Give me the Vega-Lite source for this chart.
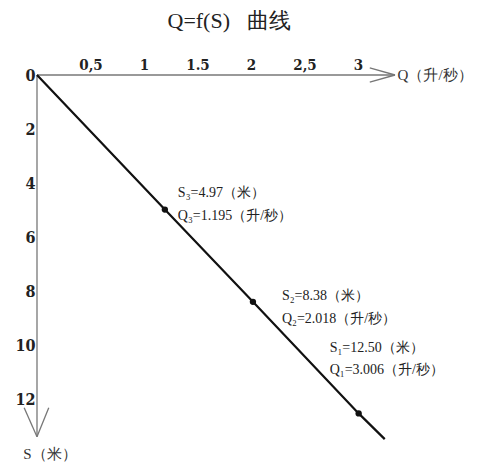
{
  "$schema": "https://vega.github.io/schema/vega-lite/v6.json",
  "width": 428,
  "height": 379,
  "autosize": "none",
  "padding": {"left": 37, "top": 75, "right": 18, "bottom": 13},
  "background": "white",
  "config": {"view": {"stroke": null}, "font": "Liberation Serif"},
  "title": {"text": "Q=f(S)\u00a0\u00a0\u00a0曲线", "fontSize": 22, "font": "Liberation Serif", "fontWeight": "normal", "color": "#222", "anchor": "middle", "dx": -22, "offset": 24},
  "datasets": {
    "curve": [
      {"Q": 0, "S": 0},
      {"Q": 1.195, "S": 4.97},
      {"Q": 2.018, "S": 8.38},
      {"Q": 3.006, "S": 12.5},
      {"Q": 3.25, "S": 13.45}
    ],
    "pts": [
      {"Q": 1.195, "S": 4.97, "label": "S₃=4.97（米）\nQ₃=1.195（升/秒）", "id": 3},
      {"Q": 2.018, "S": 8.38, "label": "S₂=8.38（米）\nQ₂=2.018（升/秒）", "id": 2},
      {"Q": 3.006, "S": 12.5, "label": "S₁=12.50（米）\nQ₁=3.006（升/秒）", "id": 1}
    ],
    "axes": [
      {"Q": 0, "S": 0, "Q2": 3.346, "S2": 0},
      {"Q": 3.11, "S": -0.26, "Q2": 3.346, "S2": 0},
      {"Q": 3.11, "S": 0.26, "Q2": 3.346, "S2": 0},
      {"Q": 0, "S": 0, "Q2": 0, "S2": 13.36},
      {"Q": -0.12, "S": 12.29, "Q2": 0, "S2": 13.36},
      {"Q": 0.11, "S": 12.29, "Q2": 0, "S2": 13.36}
    ],
    "axisnames": [
      {"Q": 3.37, "S": 0, "name": "Q（升/秒）", "axis": "x"},
      {"Q": 0.12, "S": 14.0, "name": "S（米）", "axis": "y"}
    ]
  },
  "encoding": {
    "x": {"field": "Q", "type": "quantitative", "scale": {"domain": [0, 4], "nice": false, "zero": false},
      "axis": {"orient": "top", "title": null, "domain": false, "ticks": false, "grid": false, "values": [0.5, 1, 1.5, 2, 2.5, 3],
        "labelExpr": "datum.value == 0.5 ? '0,5' : datum.value == 2.5 ? '2,5' : format(datum.value, '~g')",
        "labelFont": "'DejaVu Serif Condensed', 'Liberation Serif'", "labelFontSize": 15, "labelFontWeight": "bold", "labelColor": "#222", "labelPadding": 3}},
    "y": {"field": "S", "type": "quantitative", "scale": {"domain": [0, 14], "nice": false, "zero": false, "reverse": true},
      "axis": {"orient": "left", "title": null, "domain": false, "ticks": false, "grid": false, "values": [0, 2, 4, 6, 8, 10, 12],
        "labelFont": "'DejaVu Serif Condensed', 'Liberation Serif'", "labelFontSize": 16, "labelFontWeight": "bold", "labelColor": "#222", "labelPadding": 2}}
  },
  "layer": [
    {
      "data": {"name": "axes"},
      "mark": {"type": "rule", "color": "#777", "strokeWidth": 1.3, "clip": false},
      "encoding": {"x2": {"field": "Q2"}, "y2": {"field": "S2"}}
    },
    {
      "data": {"name": "curve"},
      "mark": {"type": "line", "color": "#111", "strokeWidth": 2.2, "clip": false},
      "encoding": {"order": {"field": "Q", "type": "quantitative"}}
    },
    {
      "data": {"name": "pts"},
      "mark": {"type": "point", "filled": true, "color": "#111", "size": 40, "opacity": 1},
      "encoding": {}
    },
    {
      "data": {"name": "pts"},
      "transform": [{"filter": "datum.id == 3"}],
      "mark": {"type": "text", "align": "left", "baseline": "middle", "lineBreak": "\n", "lineHeight": 23, "dx": 13, "dy": -17, "fontSize": 14, "font": "Liberation Serif", "color": "#222"},
      "encoding": {"text": {"field": "label"}}
    },
    {
      "data": {"name": "pts"},
      "transform": [{"filter": "datum.id == 2"}],
      "mark": {"type": "text", "align": "left", "baseline": "middle", "lineBreak": "\n", "lineHeight": 23, "dx": 29, "dy": -6, "fontSize": 14, "font": "Liberation Serif", "color": "#222"},
      "encoding": {"text": {"field": "label"}}
    },
    {
      "data": {"name": "pts"},
      "transform": [{"filter": "datum.id == 1"}],
      "mark": {"type": "text", "align": "left", "baseline": "middle", "lineBreak": "\n", "lineHeight": 22, "dx": -29, "dy": -65, "fontSize": 14, "font": "Liberation Serif", "color": "#222"},
      "encoding": {"text": {"field": "label"}}
    },
    {
      "data": {"name": "axisnames"},
      "transform": [{"filter": "datum.axis == 'x'"}],
      "mark": {"type": "text", "align": "left", "baseline": "middle", "fontSize": 15, "font": "Liberation Serif", "color": "#333", "clip": false},
      "encoding": {"text": {"field": "name"}}
    },
    {
      "data": {"name": "axisnames"},
      "transform": [{"filter": "datum.axis == 'y'"}],
      "mark": {"type": "text", "align": "center", "baseline": "middle", "fontSize": 15, "font": "Liberation Serif", "color": "#333", "clip": false},
      "encoding": {"text": {"field": "name"}}
    }
  ]
}
